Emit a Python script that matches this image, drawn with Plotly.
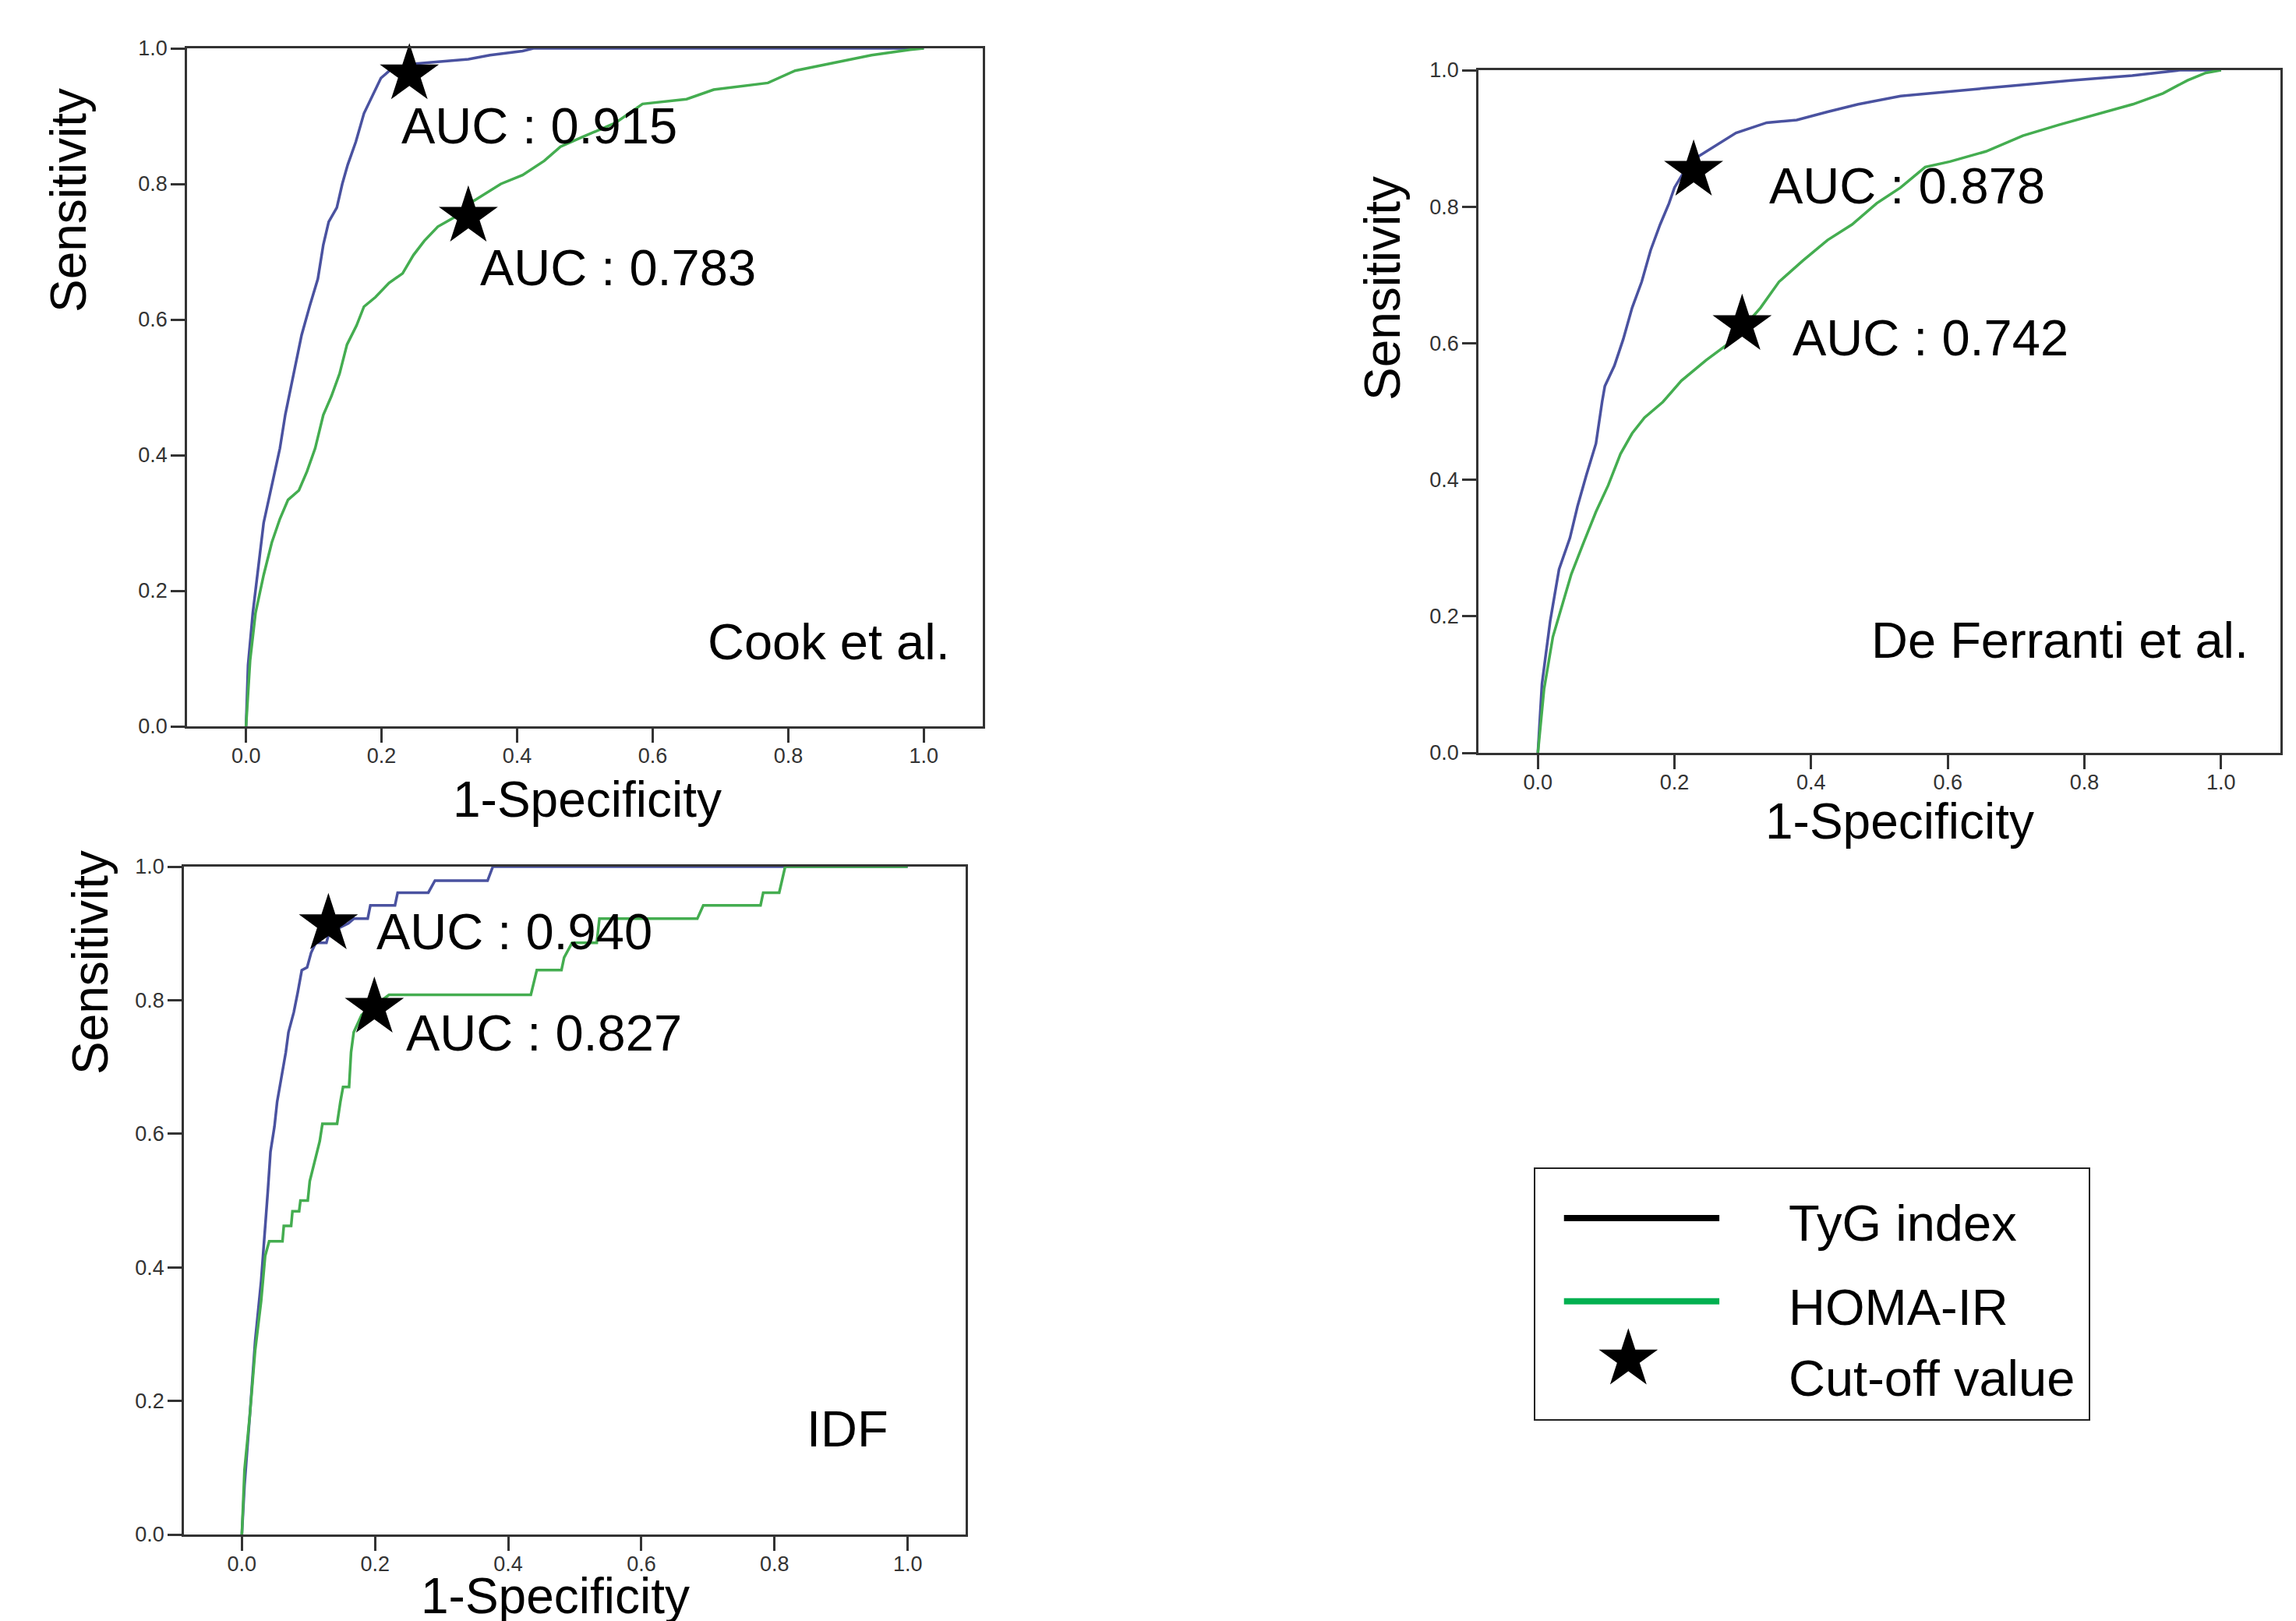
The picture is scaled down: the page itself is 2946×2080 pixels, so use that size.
import plotly.graph_objects as go

W, H = 2946, 2080
PAGE_OFF = 8  # browser body margin

# ---------------- data ----------------
tick_vals = [0.0, 0.2, 0.4, 0.6, 0.8, 1.0]
tick_text = ["0.0", "0.2", "0.4", "0.6", "0.8", "1.0"]

series_names = ["TyG index", "HOMA-IR", "Cut-off value"]
panel_names = ["Cook et al.", "De Ferranti et al.", "IDF"]

# Cook et al.
cook_tyg_x = [0, 0.003, 0.010, 0.018, 0.026, 0.038, 0.050, 0.058, 0.070, 0.082, 0.094, 0.106,
              0.114, 0.122, 0.134, 0.142, 0.150, 0.162, 0.174, 0.187, 0.199, 0.215, 0.247,
              0.280, 0.328, 0.360, 0.408, 0.424, 1.0]
cook_tyg_y = [0, 0.090, 0.167, 0.236, 0.300, 0.355, 0.410, 0.460, 0.520, 0.577, 0.620, 0.660,
              0.710, 0.744, 0.765, 0.800, 0.828, 0.862, 0.904, 0.930, 0.956, 0.970, 0.977,
              0.980, 0.984, 0.990, 0.996, 1.0, 1.0]
cook_homa_x = [0, 0.006, 0.014, 0.026, 0.038, 0.050, 0.062, 0.078, 0.090, 0.102, 0.114, 0.126,
               0.138, 0.149, 0.163, 0.174, 0.191, 0.211, 0.231, 0.247, 0.263, 0.283, 0.308,
               0.336, 0.376, 0.408, 0.440, 0.464, 0.496, 0.545, 0.585, 0.650, 0.690, 0.770,
               0.810, 0.874, 0.923, 0.980, 1.0]
cook_homa_y = [0, 0.097, 0.167, 0.223, 0.271, 0.306, 0.334, 0.348, 0.376, 0.410, 0.459, 0.487,
               0.520, 0.563, 0.591, 0.619, 0.633, 0.654, 0.668, 0.695, 0.716, 0.737, 0.751,
               0.775, 0.800, 0.813, 0.834, 0.855, 0.869, 0.890, 0.918, 0.925, 0.939, 0.949,
               0.967, 0.980, 0.990, 0.998, 1.0]
cook_cut_x = [0.241, 0.328]
cook_cut_y = [0.962, 0.752]
cook_auc = ["0.915", "0.783"]

# De Ferranti et al.
fer_tyg_x = [0, 0.006, 0.018, 0.031, 0.047, 0.058, 0.071, 0.085, 0.094, 0.098, 0.112, 0.125,
             0.138, 0.152, 0.165, 0.179, 0.192, 0.200, 0.223, 0.254, 0.290, 0.335, 0.379,
             0.424, 0.469, 0.531, 0.603, 0.692, 0.780, 0.870, 0.940, 1.0]
fer_tyg_y = [0, 0.101, 0.193, 0.269, 0.315, 0.361, 0.407, 0.453, 0.514, 0.537, 0.567, 0.606,
             0.652, 0.690, 0.736, 0.774, 0.805, 0.828, 0.866, 0.885, 0.908, 0.923, 0.927,
             0.939, 0.950, 0.962, 0.969, 0.977, 0.985, 0.992, 1.0, 1.0]
fer_homa_x = [0, 0.009, 0.022, 0.036, 0.049, 0.067, 0.085, 0.103, 0.121, 0.138, 0.156, 0.183,
              0.210, 0.246, 0.277, 0.299, 0.326, 0.353, 0.388, 0.424, 0.460, 0.496, 0.531,
              0.567, 0.603, 0.656, 0.710, 0.763, 0.817, 0.871, 0.915, 0.951, 0.978, 1.0]
fer_homa_y = [0, 0.093, 0.170, 0.216, 0.262, 0.308, 0.353, 0.392, 0.438, 0.468, 0.491, 0.514,
              0.545, 0.575, 0.598, 0.621, 0.652, 0.690, 0.721, 0.751, 0.774, 0.805, 0.828,
              0.858, 0.866, 0.881, 0.904, 0.920, 0.935, 0.950, 0.966, 0.985, 0.996, 1.0]
fer_cut_x = [0.228, 0.299]
fer_cut_y = [0.853, 0.627]
fer_auc = ["0.878", "0.742"]

# IDF
idf_tyg_x = [0, 0.004, 0.012, 0.020, 0.029, 0.035, 0.039, 0.043, 0.049, 0.053, 0.060, 0.066,
             0.070, 0.078, 0.084, 0.090, 0.098, 0.104, 0.111, 0.127, 0.131, 0.160, 0.168,
             0.189, 0.193, 0.230, 0.234, 0.280, 0.290, 0.369, 0.377, 1.0]
idf_tyg_y = [0, 0.074, 0.179, 0.290, 0.380, 0.454, 0.514, 0.573, 0.611, 0.648, 0.685, 0.722,
             0.752, 0.782, 0.812, 0.845, 0.849, 0.871, 0.886, 0.886, 0.901, 0.915, 0.922,
             0.922, 0.942, 0.942, 0.961, 0.961, 0.979, 0.979, 1.0, 1.0]
idf_homa_x = [0, 0.004, 0.012, 0.020, 0.029, 0.035, 0.041, 0.061, 0.063, 0.074, 0.076, 0.086,
              0.088, 0.099, 0.102, 0.109, 0.117, 0.121, 0.143, 0.148, 0.152, 0.161, 0.164,
              0.168, 0.180, 0.197, 0.221, 0.434, 0.443, 0.480, 0.484, 0.496, 0.533, 0.537,
              0.684, 0.693, 0.779, 0.783, 0.807, 0.816, 1.0]
idf_homa_y = [0, 0.097, 0.179, 0.276, 0.350, 0.417, 0.439, 0.439, 0.462, 0.462, 0.484, 0.484,
              0.500, 0.500, 0.529, 0.559, 0.589, 0.615, 0.615, 0.648, 0.670, 0.670, 0.722,
              0.752, 0.778, 0.790, 0.808, 0.808, 0.845, 0.845, 0.864, 0.886, 0.886, 0.922,
              0.922, 0.942, 0.942, 0.961, 0.961, 1.0, 1.0]
idf_cut_x = [0.130, 0.199]
idf_cut_y = [0.914, 0.789]
idf_auc = ["0.940", "0.827"]

# ---------------- styling ----------------
BLUE = "#4a52a0"
GREEN = "#44ad50"
LEG_GREEN = "#00b050"
AX_FONT = "Liberation Sans, Arial, Helvetica, sans-serif"
TXT_FONT = "Liberation Sans, Arial, sans-serif"


def px_x(p):
    return (p - PAGE_OFF) / W


def px_y(p):
    return 1 - (p - PAGE_OFF) / H


def dom_x(a, b):
    return [px_x(a), px_x(b)]


def dom_y(top, bottom):
    return [px_y(bottom), px_y(top)]


fig = go.Figure()

panels = [
    dict(ax="", tyg=(cook_tyg_x, cook_tyg_y), homa=(cook_homa_x, cook_homa_y),
         cut=(cook_cut_x, cook_cut_y), auc=cook_auc, name=panel_names[0],
         dx=dom_x(240, 1261), dy=dom_y(62, 932),
         auc_pos=[(0.227, 0.886), (0.343, 0.676)], name_pos=(1.041, 0.125),
         sens=(88, 257), spec=(753, 1026)),
    dict(ax="2", tyg=(fer_tyg_x, fer_tyg_y), homa=(fer_homa_x, fer_homa_y),
         cut=(fer_cut_x, fer_cut_y), auc=fer_auc, name=panel_names[1],
         dx=dom_x(1897, 2926), dy=dom_y(90, 966),
         auc_pos=[(0.336, 0.830), (0.371, 0.608)], name_pos=(1.043, 0.165),
         sens=(1774, 370), spec=(2437, 1054)),
    dict(ax="3", tyg=(idf_tyg_x, idf_tyg_y), homa=(idf_homa_x, idf_homa_y),
         cut=(idf_cut_x, idf_cut_y), auc=idf_auc, name=panel_names[2],
         dx=dom_x(236, 1239), dy=dom_y(1112, 1969),
         auc_pos=[(0.200, 0.903), (0.244, 0.751)], name_pos=(0.973, 0.158),
         sens=(116, 1235), spec=(712, 2048)),
]

annotations = []
for p in panels:
    xa = "x" + p["ax"]
    ya = "y" + p["ax"]
    fig.add_trace(go.Scatter(x=p["tyg"][0], y=p["tyg"][1], mode="lines",
                             line=dict(color=BLUE, width=3.5), xaxis=xa, yaxis=ya,
                             showlegend=False, hoverinfo="skip"))
    fig.add_trace(go.Scatter(x=p["homa"][0], y=p["homa"][1], mode="lines",
                             line=dict(color=GREEN, width=3.5), xaxis=xa, yaxis=ya,
                             showlegend=False, hoverinfo="skip"))
    fig.add_trace(go.Scatter(x=p["cut"][0], y=p["cut"][1], mode="markers",
                             marker=dict(symbol="star", size=57, color="black",
                                         line=dict(width=0)),
                             cliponaxis=False, xaxis=xa, yaxis=ya,
                             showlegend=False, hoverinfo="skip"))
    for (ax_, ay_), val in zip(p["auc_pos"], p["auc"]):
        annotations.append(dict(x=ax_, y=ay_, xref=xa, yref=ya, text="AUC : " + val,
                                showarrow=False, xanchor="left", yanchor="middle",
                                font=dict(family=TXT_FONT, size=65, color="black")))
    annotations.append(dict(x=p["name_pos"][0], y=p["name_pos"][1], xref=xa, yref=ya,
                            text=p["name"], showarrow=False, xanchor="right",
                            yanchor="middle",
                            font=dict(family=TXT_FONT, size=65, color="black")))
    annotations.append(dict(x=px_x(p["sens"][0]), y=px_y(p["sens"][1]),
                            xref="paper", yref="paper",
                            text="Sensitivity", textangle=-90, showarrow=False,
                            xanchor="center", yanchor="middle",
                            font=dict(family=AX_FONT, size=64, color="black")))
    annotations.append(dict(x=px_x(p["spec"][0]), y=px_y(p["spec"][1]),
                            xref="paper", yref="paper",
                            text="1-Specificity", showarrow=False,
                            xanchor="center", yanchor="middle",
                            font=dict(family=AX_FONT, size=64, color="black")))

axis_common = dict(range=[-0.087, 1.087], tickvals=tick_vals, ticktext=tick_text,
                   ticks="outside", ticklen=18, tickwidth=3, tickcolor="#333",
                   showline=True, linewidth=2.5, linecolor="#333", mirror=True,
                   showgrid=False, zeroline=False, fixedrange=True, automargin=False,
                   tickfont=dict(family=AX_FONT, size=27, color="#333"))
xaxis_common = dict(axis_common, ticklabelstandoff=-6)
yaxis_common = dict(axis_common, range=[0, 1], ticklabelstandoff=-1)

layout = dict(width=W, height=H, margin=dict(l=0, r=0, t=0, b=0, autoexpand=False),
              paper_bgcolor="white", plot_bgcolor="white", showlegend=False)
for p in panels:
    layout["xaxis" + p["ax"]] = dict(xaxis_common, domain=p["dx"], anchor="y" + p["ax"])
    layout["yaxis" + p["ax"]] = dict(yaxis_common, domain=p["dy"], anchor="x" + p["ax"])

# legend box axis
leg_dx = dom_x(1969, 2681)
leg_dy = dom_y(1499, 1822)
layout["xaxis4"] = dict(domain=leg_dx, range=[0, 1], visible=False, fixedrange=True,
                        anchor="y4", automargin=False)
layout["yaxis4"] = dict(domain=leg_dy, range=[0, 1], visible=False, fixedrange=True,
                        anchor="x4", automargin=False)
fig.add_trace(go.Scatter(x=[0.053, 0.333], y=[0.802, 0.802], mode="lines",
                         line=dict(color="black", width=8), xaxis="x4", yaxis="y4",
                         showlegend=False, hoverinfo="skip"))
fig.add_trace(go.Scatter(x=[0.053, 0.333], y=[0.471, 0.471], mode="lines",
                         line=dict(color=LEG_GREEN, width=8), xaxis="x4", yaxis="y4",
                         showlegend=False, hoverinfo="skip"))
fig.add_trace(go.Scatter(x=[0.169], y=[0.241], mode="markers",
                         marker=dict(symbol="star", size=57, color="black",
                                     line=dict(width=0)),
                         cliponaxis=False, xaxis="x4", yaxis="y4",
                         showlegend=False, hoverinfo="skip"))
for name, ly in zip(series_names, [0.783, 0.446, 0.167]):
    annotations.append(dict(x=0.455, y=ly, xref="x4", yref="y4", text=name,
                            showarrow=False, xanchor="left", yanchor="middle",
                            font=dict(family=TXT_FONT, size=65, color="black")))

layout["shapes"] = [dict(type="rect", xref="paper", yref="paper",
                         x0=leg_dx[0], x1=leg_dx[1], y0=leg_dy[0], y1=leg_dy[1],
                         line=dict(color="#222", width=2), fillcolor="rgba(0,0,0,0)")]
layout["annotations"] = annotations
fig.update_layout(**layout)

fig.write_html("out.html")
